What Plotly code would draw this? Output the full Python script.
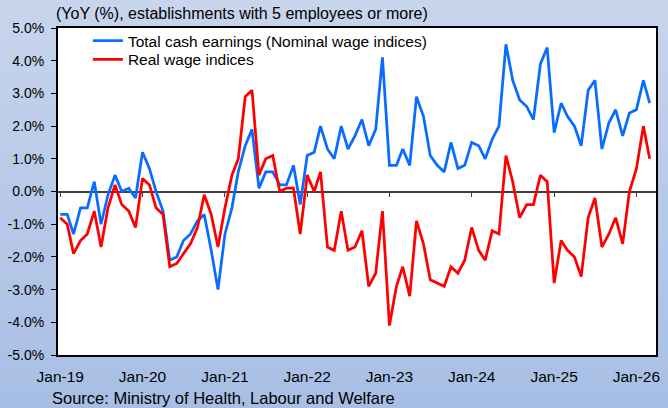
import plotly.graph_objects as go
import pandas as pd

# YoY (%) monthly, Jan-19 .. Mar-26
nominal = [-0.7, -0.7, -1.3, -0.5, -0.5, 0.3, -1.0, -0.1, 0.5, 0.0, 0.1, -0.2,
           1.2, 0.7, 0.0, -0.6, -2.1, -2.0, -1.5, -1.3, -0.9, -0.7, -1.8, -3.0,
           -1.3, -0.5, 0.6, 1.4, 1.9, 0.1, 0.6, 0.6, 0.2, 0.2, 0.8, -0.4,
           1.1, 1.2, 2.0, 1.3, 1.0, 2.0, 1.3, 1.7, 2.2, 1.4, 1.9, 4.1,
           0.8, 0.8, 1.3, 0.8, 2.9, 2.3, 1.1, 0.8, 0.6, 1.5, 0.7, 0.8,
           1.5, 1.4, 1.0, 1.6, 2.0, 4.5, 3.4, 2.8, 2.6, 2.2, 3.9, 4.4,
           1.8, 2.7, 2.3, 2.0, 1.4, 3.1, 3.4, 1.3, 2.1, 2.5, 1.7, 2.4,
           2.5, 3.4, 2.7]
real = [-0.8, -1.0, -1.9, -1.5, -1.3, -0.6, -1.7, -0.5, 0.2, -0.4, -0.6, -1.1,
        0.4, 0.2, -0.5, -0.7, -2.3, -2.2, -1.9, -1.6, -1.1, -0.1, -0.7, -1.7,
        -0.5, 0.5, 1.0, 2.9, 3.1, 0.5, 1.0, 1.1, 0.0, 0.1, 0.1, -1.3,
        0.5, 0.0, 0.6, -1.7, -1.8, -0.6, -1.8, -1.7, -1.2, -2.9, -2.5, -0.6,
        -4.1, -2.9, -2.3, -3.2, -0.9, -1.6, -2.7, -2.8, -2.9, -2.3, -2.5, -2.1,
        -1.1, -1.8, -2.1, -1.2, -1.3, 1.1, 0.3, -0.8, -0.4, -0.4, 0.5, 0.3,
        -2.8, -1.5, -1.8, -2.0, -2.6, -0.8, -0.2, -1.7, -1.3, -0.8, -1.6, 0.0,
        0.7, 2.0, 1.0]
months = pd.date_range('2019-01-01', periods=len(nominal), freq='MS')

x_ticks = ['2019-01-01', '2020-01-01', '2021-01-01', '2022-01-01',
           '2023-01-01', '2024-01-01', '2025-01-01', '2026-01-01']
x_tick_labels = ['Jan-19', 'Jan-20', 'Jan-21', 'Jan-22', 'Jan-23', 'Jan-24', 'Jan-25', 'Jan-26']
y_ticks = [-5, -4, -3, -2, -1, 0, 1, 2, 3, 4, 5]
y_tick_labels = ['-5.0%', '-4.0%', '-3.0%', '-2.0%', '-1.0%', '0.0%',
                 '1.0%', '2.0%', '3.0%', '4.0%', '5.0%']

font = 'Liberation Sans, Arial, sans-serif'

fig = go.Figure()
fig.add_trace(go.Scatter(x=months, y=nominal, mode='lines',
                         name='Total cash earnings (Nominal wage indices)',
                         line=dict(color='#0a6cff', width=2.75), legend='legend'))
fig.add_trace(go.Scatter(x=months, y=real, mode='lines', name='Real wage indices',
                         line=dict(color='#ff0000', width=2.75), legend='legend2'))
# unsichtbar, nur damit die Jahres-Ticks auf der Nulllinie gezeichnet werden
fig.add_trace(go.Scatter(x=months, y=real, xaxis='x2', mode='lines',
                         line=dict(color='rgba(0,0,0,0)'), showlegend=False, hoverinfo='skip'))

# Hintergrund mit Farbverlauf (hell oben, dunkler unten)
shapes = []
n = 40
top = (200, 213, 237)
bottom = (168, 191, 229)
y0, y1 = -0.17, 1.09
for i in range(n):
    t = i / (n - 1)
    c = tuple(int(bottom[k] + (top[k] - bottom[k]) * t) for k in range(3))
    shapes.append(dict(type='rect', xref='paper', yref='paper', layer='below',
                       x0=-0.2, x1=1.2,
                       y0=y0 + (y1 - y0) * i / n - 0.001, y1=y0 + (y1 - y0) * (i + 1) / n + 0.001,
                       fillcolor='rgb(%d,%d,%d)' % c, line=dict(width=0)))
shapes.append(dict(type='rect', xref='paper', yref='paper', layer='below',
                   x0=0, x1=1, y0=0, y1=1, fillcolor='white', line=dict(width=0)))

leg = dict(x=0.05, xanchor='left', yanchor='top', bgcolor='rgba(0,0,0,0)',
           font=dict(size=15.5))

fig.update_layout(
    width=668, height=408,
    margin=dict(l=58, r=8, t=28, b=53),
    paper_bgcolor='rgb(185,202,233)',
    plot_bgcolor='white',
    font=dict(family=font, color='black'),
    shapes=shapes,
    showlegend=True,
    legend=dict(leg, y=1.012),
    legend2=dict(leg, y=0.955),
    xaxis=dict(type='date', range=['2018-12-22', '2026-03-29'],
               tickvals=x_ticks, ticktext=x_tick_labels, ticks='',
               showline=True, mirror=True, linecolor='black', linewidth=2,
               showgrid=False, zeroline=False, tickfont=dict(size=15.5),
               ticklabelstandoff=6),
    xaxis2=dict(overlaying='x', anchor='free', position=0.5, matches='x',
                tickvals=x_ticks, ticks='outside', ticklen=4, tickwidth=1,
                tickcolor='#404040', showticklabels=False, showgrid=False,
                showline=False, zeroline=False, layer='below traces'),
    yaxis=dict(range=[-5, 5], tickvals=y_ticks, ticktext=y_tick_labels,
               ticks='outside', ticklen=5, tickcolor='black',
               showline=True, mirror=True, linecolor='black', linewidth=2,
               showgrid=False, zeroline=True, zerolinecolor='#404040', zerolinewidth=1.5,
               tickfont=dict(size=14), ticklabelstandoff=4),
    annotations=[
        dict(text='(YoY (%), establishments with 5 employees or more)',
             xref='paper', yref='paper', x=-0.006, y=1.045, xanchor='left', yanchor='middle',
             showarrow=False, font=dict(size=16)),
        dict(text='Source: Ministry of Health, Labour and Welfare',
             xref='paper', yref='paper', x=-0.013, y=-0.131, xanchor='left', yanchor='middle',
             showarrow=False, font=dict(size=16.5)),
    ],
)

# Seitenrand des Browsers entfernen, sonst ist alles um 8px verschoben
fig.write_html('out.html', config={'displayModeBar': False},
               post_script="document.body.style.margin='0';")
